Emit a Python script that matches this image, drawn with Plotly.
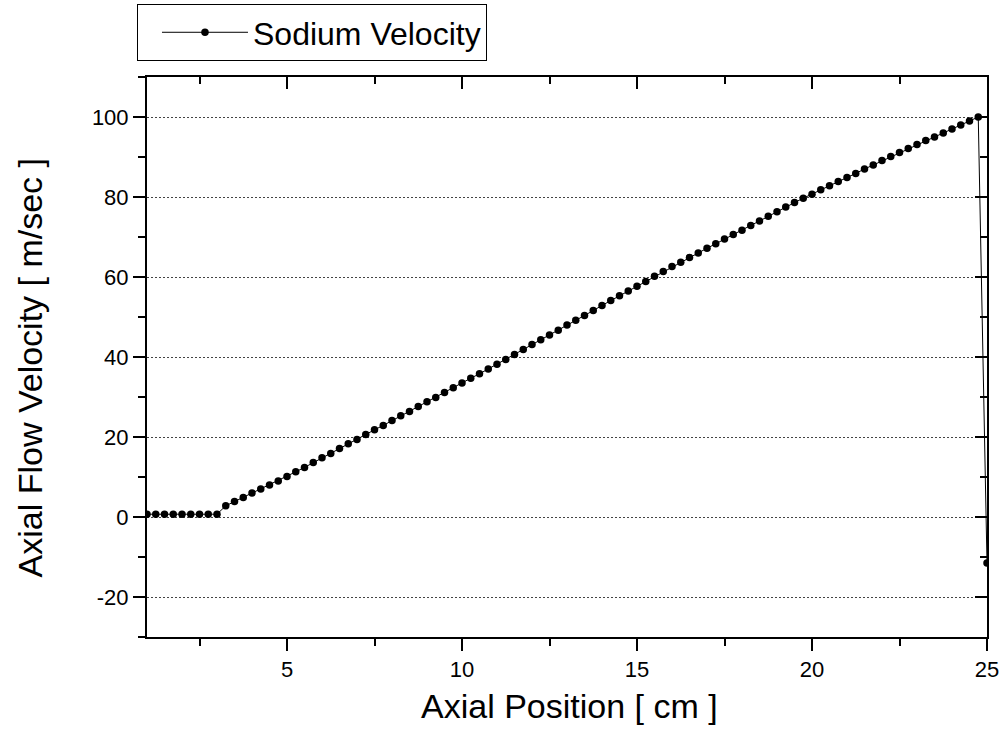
import plotly.graph_objects as go

# Axial position [cm]
position = [1.0, 1.25, 1.5, 1.75, 2.0, 2.25, 2.5, 2.75, 3.0,
            3.25, 3.5, 3.75, 4.0, 4.25, 4.5, 4.75, 5.0,
            5.25, 5.5, 5.75, 6.0, 6.25, 6.5, 6.75, 7.0, 7.25, 7.5, 7.75, 8.0,
            8.25, 8.5, 8.75, 9.0, 9.25, 9.5,
            9.75, 10.0, 10.25, 10.5, 10.75, 11.0,
            11.25, 11.5, 11.75, 12.0, 12.25, 12.5, 12.75, 13.0, 13.25, 13.5,
            13.75, 14.0, 14.25, 14.5,
            14.75, 15.0, 15.25, 15.5, 15.75, 16.0,
            16.25, 16.5, 16.75, 17.0, 17.25, 17.5, 17.75, 18.0, 18.25, 18.5,
            18.75, 19.0, 19.25, 19.5,
            19.75, 20.0, 20.25, 20.5, 20.75, 21.0,
            21.25, 21.5, 21.75, 22.0,
            22.25, 22.5, 22.75, 23.0, 23.25, 23.5, 23.75, 24.0, 24.25, 24.5, 24.75,
            25.0]

# Sodium axial flow velocity [m/sec]
velocity = [0.7, 0.7, 0.7, 0.7, 0.7, 0.7, 0.7, 0.7, 0.7,
            2.8, 3.85, 4.9, 6.0, 7.0, 8.0, 9.0, 10.1,
            11.3, 12.4, 13.6, 14.8, 15.9, 17.1, 18.3, 19.4, 20.6, 21.8, 22.9, 24.1,
            25.3, 26.4, 27.6, 28.8, 29.9, 31.1,
            32.3, 33.5, 34.7, 35.8, 37.0, 38.2,
            39.4, 40.6, 41.9, 43.1, 44.3, 45.5, 46.7, 48.0, 49.2, 50.4,
            51.6, 52.9, 54.1, 55.3,
            56.5, 57.7, 58.9, 60.2, 61.4, 62.6,
            63.7, 64.9, 66.0, 67.2, 68.3, 69.5, 70.6, 71.7, 72.9, 74.0,
            75.2, 76.3, 77.5, 78.6,
            79.7, 80.7, 81.8, 82.8, 83.9, 84.9,
            85.9, 87.0, 88.0, 89.1,
            90.1, 91.1, 92.1, 93.1, 94.1, 95.0, 96.0, 97.0, 98.0, 99.0, 100.0,
            -11.5]

series_name = "Sodium Velocity"
x_title = "Axial Position [ cm ]"
y_title = "Axial Flow Velocity [ m/sec ]"

x_tickvals = [5, 10, 15, 20, 25]
x_ticktext = ["5", "10", "15", "20", "25"]
y_tickvals = [-20, 0, 20, 40, 60, 80, 100]
y_ticktext = ["-20", "0", "20", "40", "60", "80", "100"]

FONT = "Arial, Liberation Sans, sans-serif"
X_RANGE = [1, 25]
Y_RANGE = [-30, 110]

fig = go.Figure()
fig.add_trace(go.Scatter(
    x=position, y=velocity, name=series_name, mode="lines+markers",
    line=dict(color="black", width=1),
    marker=dict(color="black", size=7.5, symbol="circle"),
))
# invisible trace to host the mirrored (inside-tick) top/right axes
fig.add_trace(go.Scatter(
    x=position, y=velocity, xaxis="x2", yaxis="y2", mode="markers",
    marker=dict(opacity=0), showlegend=False, hoverinfo="skip",
))

axis_common = dict(showline=True, linecolor="black", linewidth=2, zeroline=False,
                   tickcolor="black", tickwidth=2,
                   tickfont=dict(family=FONT, size=22, color="black"))

fig.update_layout(
    width=1008, height=735,
    margin=dict(l=147, r=21, t=77, b=98, autoexpand=False),
    paper_bgcolor="white", plot_bgcolor="white",
    font=dict(family=FONT, color="black"),
    showlegend=True,
    legend=dict(xref="container", yref="container", x=0.1359, y=0.9946,
                xanchor="left", yanchor="top",
                bordercolor="black", borderwidth=1, bgcolor="white",
                font=dict(family=FONT, size=32, color="black"),
                itemwidth=86, indentation=19),
    xaxis=dict(range=X_RANGE, tickmode="array", tickvals=x_tickvals, ticktext=x_ticktext,
               ticks="outside", ticklen=12, showgrid=False,
               minor=dict(dtick=2.5, tick0=0, ticks="outside", ticklen=7, tickwidth=2,
                          tickcolor="black", showgrid=False),
               **axis_common),
    yaxis=dict(range=Y_RANGE, tickmode="array", tickvals=y_tickvals, ticktext=y_ticktext,
               ticks="outside", ticklen=12,
               showgrid=True, gridcolor="#444", gridwidth=1, griddash="2px,2px",
               minor=dict(dtick=10, tick0=0, ticks="outside", ticklen=7, tickwidth=2,
                          tickcolor="black", showgrid=False),
               **axis_common),
    xaxis2=dict(range=X_RANGE, overlaying="x", side="top", anchor="y2",
                tickmode="array", tickvals=x_tickvals,
                ticks="inside", ticklen=12, showticklabels=False, showgrid=False,
                minor=dict(dtick=2.5, tick0=0, ticks="inside", ticklen=7, tickwidth=2,
                           tickcolor="black", showgrid=False),
                **axis_common),
    yaxis2=dict(range=Y_RANGE, overlaying="y", side="right", anchor="x2",
                tickmode="array", tickvals=y_tickvals,
                ticks="inside", ticklen=12, showticklabels=False, showgrid=False,
                minor=dict(dtick=10, tick0=0, ticks="inside", ticklen=7, tickwidth=2,
                           tickcolor="black", showgrid=False),
                **axis_common),
    annotations=[
        dict(text=x_title, xref="paper", yref="paper", x=0.503, y=-0.124,
             xanchor="center", yanchor="middle", showarrow=False,
             font=dict(family=FONT, size=34, color="black")),
        dict(text=y_title, xref="paper", yref="paper", x=-0.139, y=0.48,
             xanchor="center", yanchor="middle", textangle=-90, showarrow=False,
             font=dict(family=FONT, size=34, color="black")),
    ],
)

fig.write_html("out.html")
